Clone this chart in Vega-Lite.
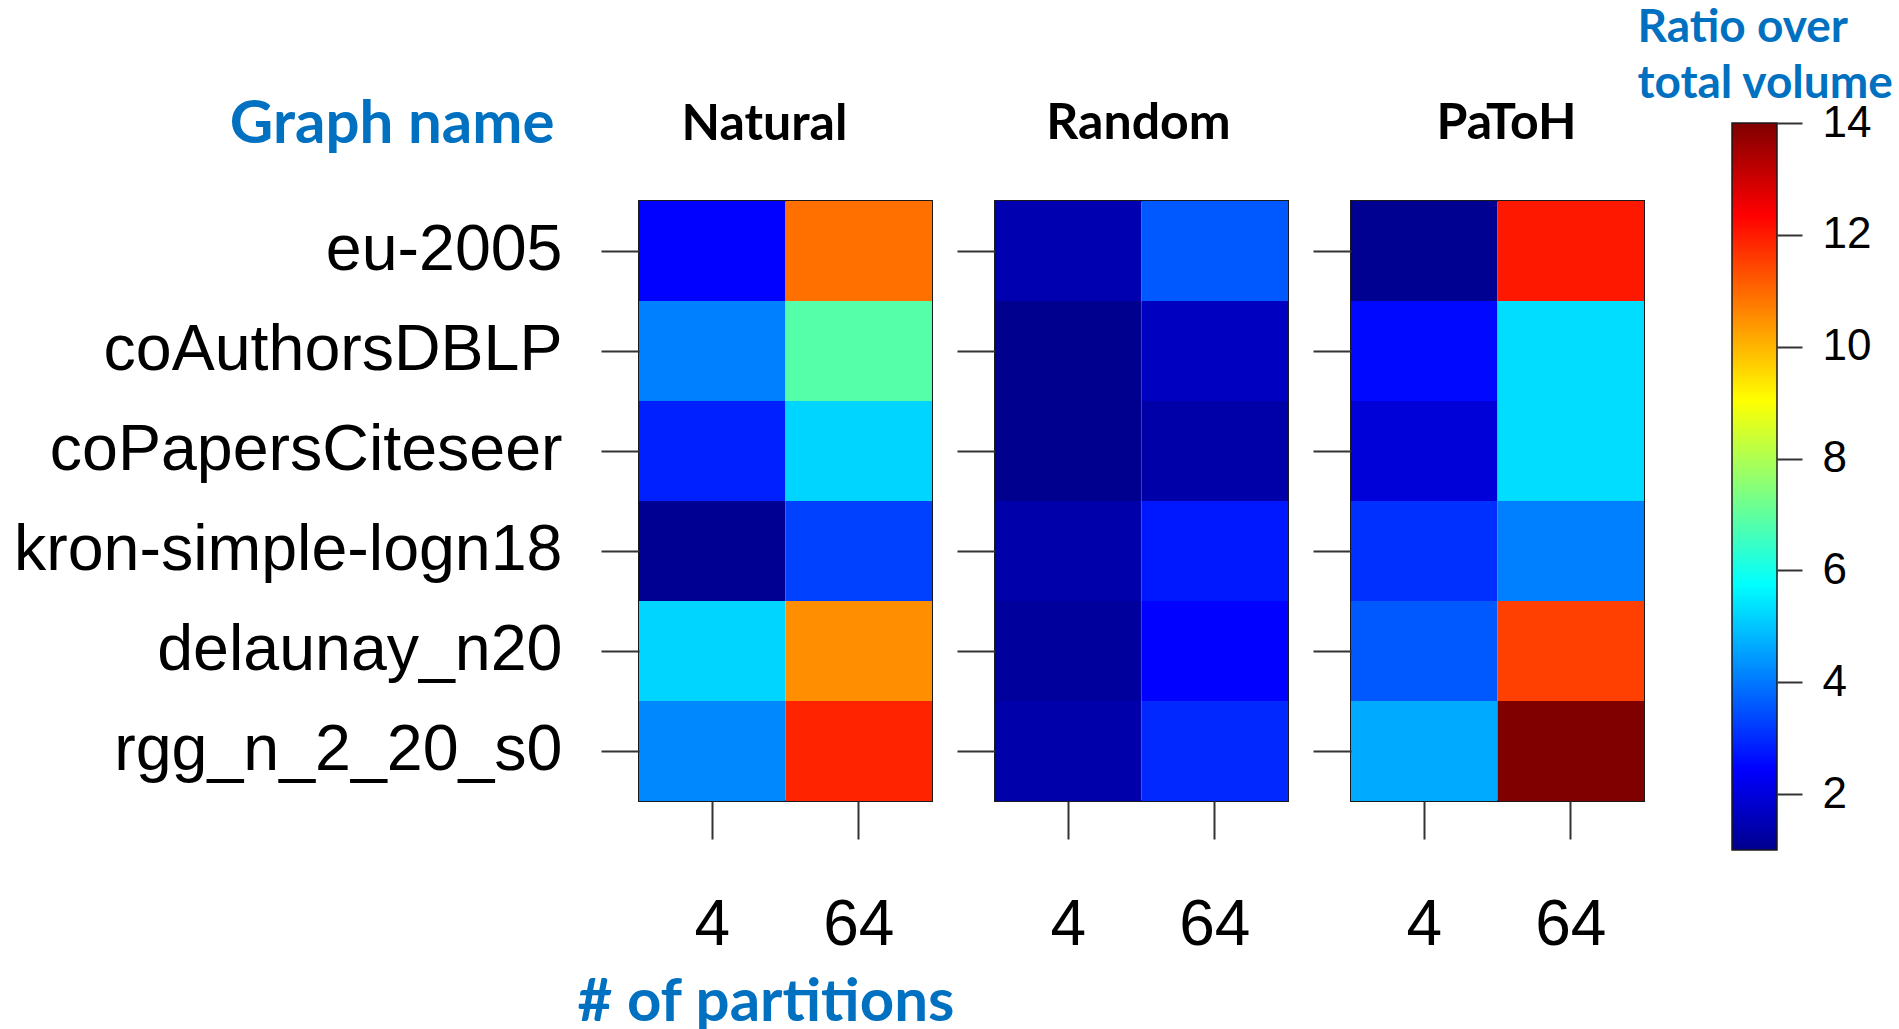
{
  "$schema": "https://vega.github.io/schema/vega-lite/v6.json",
  "background": "white",
  "padding": {"left": 12, "top": 4, "right": 0, "bottom": 0},
  "bounds": "flush",
  "spacing": 63,
  "config": {
    "view": {"stroke": "#1a1a1a", "strokeWidth": 2},
    "axis": {
      "labelFont": "Liberation Sans",
      "labelColor": "black",
      "titleFont": "Lato",
      "titleFontWeight": "bold",
      "titleColor": "#0070C0",
      "tickColor": "#333333",
      "tickWidth": 2,
      "domain": false,
      "grid": false,
      "labelLimit": 0
    },
    "title": {"font": "Lato", "fontWeight": "bold", "fontSize": 50, "color": "black"}
  },
  "datasets": {
    "cells": [
      {"method": "Natural", "graph": "eu-2005", "parts": 4, "ratio": 2.45},
      {"method": "Natural", "graph": "eu-2005", "parts": 64, "ratio": 10.9},
      {"method": "Natural", "graph": "coAuthorsDBLP", "parts": 4, "ratio": 4.1},
      {"method": "Natural", "graph": "coAuthorsDBLP", "parts": 64, "ratio": 6.85},
      {"method": "Natural", "graph": "coPapersCiteseer", "parts": 4, "ratio": 2.85},
      {"method": "Natural", "graph": "coPapersCiteseer", "parts": 64, "ratio": 5.2},
      {"method": "Natural", "graph": "kron-simple-logn18", "parts": 4, "ratio": 1.05},
      {"method": "Natural", "graph": "kron-simple-logn18", "parts": 64, "ratio": 3.27},
      {"method": "Natural", "graph": "delaunay_n20", "parts": 4, "ratio": 5.2},
      {"method": "Natural", "graph": "delaunay_n20", "parts": 64, "ratio": 10.5},
      {"method": "Natural", "graph": "rgg_n_2_20_s0", "parts": 4, "ratio": 4.2},
      {"method": "Natural", "graph": "rgg_n_2_20_s0", "parts": 64, "ratio": 11.9},
      {"method": "Random", "graph": "eu-2005", "parts": 4, "ratio": 1.42},
      {"method": "Random", "graph": "eu-2005", "parts": 64, "ratio": 3.58},
      {"method": "Random", "graph": "coAuthorsDBLP", "parts": 4, "ratio": 1.0},
      {"method": "Random", "graph": "coAuthorsDBLP", "parts": 64, "ratio": 1.63},
      {"method": "Random", "graph": "coPapersCiteseer", "parts": 4, "ratio": 1.0},
      {"method": "Random", "graph": "coPapersCiteseer", "parts": 64, "ratio": 1.32},
      {"method": "Random", "graph": "kron-simple-logn18", "parts": 4, "ratio": 1.35},
      {"method": "Random", "graph": "kron-simple-logn18", "parts": 64, "ratio": 2.75},
      {"method": "Random", "graph": "delaunay_n20", "parts": 4, "ratio": 1.17},
      {"method": "Random", "graph": "delaunay_n20", "parts": 64, "ratio": 2.45},
      {"method": "Random", "graph": "rgg_n_2_20_s0", "parts": 4, "ratio": 1.35},
      {"method": "Random", "graph": "rgg_n_2_20_s0", "parts": 64, "ratio": 2.96},
      {"method": "PaToH", "graph": "eu-2005", "parts": 4, "ratio": 1.02},
      {"method": "PaToH", "graph": "eu-2005", "parts": 64, "ratio": 12.04},
      {"method": "PaToH", "graph": "coAuthorsDBLP", "parts": 4, "ratio": 2.54},
      {"method": "PaToH", "graph": "coAuthorsDBLP", "parts": 64, "ratio": 5.3},
      {"method": "PaToH", "graph": "coPapersCiteseer", "parts": 4, "ratio": 1.94},
      {"method": "PaToH", "graph": "coPapersCiteseer", "parts": 64, "ratio": 5.3},
      {"method": "PaToH", "graph": "kron-simple-logn18", "parts": 4, "ratio": 3.06},
      {"method": "PaToH", "graph": "kron-simple-logn18", "parts": 64, "ratio": 4.1},
      {"method": "PaToH", "graph": "delaunay_n20", "parts": 4, "ratio": 3.58},
      {"method": "PaToH", "graph": "delaunay_n20", "parts": 64, "ratio": 11.52},
      {"method": "PaToH", "graph": "rgg_n_2_20_s0", "parts": 4, "ratio": 4.64},
      {"method": "PaToH", "graph": "rgg_n_2_20_s0", "parts": 64, "ratio": 14.0}
    ],
    "colorbar": [{"lo": 1, "hi": 14}]
  },
  "hconcat": [
    {
      "width": 293,
      "height": 600,
      "data": {"name": "cells"},
      "transform": [{"filter": "datum.method === 'Natural'"}],
      "title": {"text": "Natural", "frame": "group", "anchor": "middle", "baseline": "alphabetic", "offset": -96, "dx": -21},
      "mark": {"type": "rect", "strokeWidth": 0},
      "encoding": {
        "x": {
          "field": "parts", "type": "ordinal", "sort": [4, 64],
          "scale": {"paddingInner": 0, "paddingOuter": 0},
          "axis": {
            "labelAngle": 0, "labelFontSize": 64, "tickSize": 38, "labelPadding": 54,
            "title": "# of partitions", "titleFontSize": 60, "titleAlign": "left",
            "titleBaseline": "alphabetic", "titleX": -62, "titleY": 219
          }
        },
        "y": {
          "field": "graph", "type": "nominal",
          "sort": ["eu-2005", "coAuthorsDBLP", "coPapersCiteseer", "kron-simple-logn18", "delaunay_n20", "rgg_n_2_20_s0"],
          "scale": {"paddingInner": 0, "paddingOuter": 0},
          "axis": {
            "labelFontSize": 64.5, "tickSize": 38, "labelPadding": 39,
            "title": "Graph name", "titleAngle": 0, "titleFontSize": 60, "titleAlign": "right",
            "titleBaseline": "alphabetic", "titleX": -85, "titleY": -59
          }
        },
        "color": {
          "field": "ratio", "type": "quantitative",
          "scale": {
            "domain": [1, 2.44, 5.745, 9.05, 12.35, 14],
            "range": ["#00008F", "#0000FF", "#00FFFF", "#FFFF00", "#FF0000", "#800000"],
            "interpolate": "rgb"
          },
          "legend": null
        }
      }
    },
    {
      "width": 293,
      "height": 600,
      "data": {"name": "cells"},
      "transform": [{"filter": "datum.method === 'Random'"}],
      "title": {"text": "Random", "frame": "group", "anchor": "middle", "baseline": "alphabetic", "offset": 12, "dx": -3},
      "mark": {"type": "rect", "strokeWidth": 0},
      "encoding": {
        "x": {
          "field": "parts", "type": "ordinal", "sort": [4, 64],
          "scale": {"paddingInner": 0, "paddingOuter": 0},
          "axis": {"labelAngle": 0, "labelFontSize": 64, "tickSize": 38, "labelPadding": 54, "title": null}
        },
        "y": {
          "field": "graph", "type": "nominal",
          "sort": ["eu-2005", "coAuthorsDBLP", "coPapersCiteseer", "kron-simple-logn18", "delaunay_n20", "rgg_n_2_20_s0"],
          "scale": {"paddingInner": 0, "paddingOuter": 0},
          "axis": {"labels": false, "tickSize": 38, "title": null}
        },
        "color": {
          "field": "ratio", "type": "quantitative",
          "scale": {
            "domain": [1, 2.44, 5.745, 9.05, 12.35, 14],
            "range": ["#00008F", "#0000FF", "#00FFFF", "#FFFF00", "#FF0000", "#800000"],
            "interpolate": "rgb"
          },
          "legend": null
        }
      }
    },
    {
      "width": 293,
      "height": 600,
      "data": {"name": "cells"},
      "transform": [{"filter": "datum.method === 'PaToH'"}],
      "title": {"text": "PaToH", "frame": "group", "anchor": "middle", "baseline": "alphabetic", "offset": 12, "dx": 9},
      "mark": {"type": "rect", "strokeWidth": 0},
      "encoding": {
        "x": {
          "field": "parts", "type": "ordinal", "sort": [4, 64],
          "scale": {"paddingInner": 0, "paddingOuter": 0},
          "axis": {"labelAngle": 0, "labelFontSize": 64, "tickSize": 38, "labelPadding": 54, "title": null}
        },
        "y": {
          "field": "graph", "type": "nominal",
          "sort": ["eu-2005", "coAuthorsDBLP", "coPapersCiteseer", "kron-simple-logn18", "delaunay_n20", "rgg_n_2_20_s0"],
          "scale": {"paddingInner": 0, "paddingOuter": 0},
          "axis": {"labels": false, "tickSize": 38, "title": null}
        },
        "color": {
          "field": "ratio", "type": "quantitative",
          "scale": {
            "domain": [1, 2.44, 5.745, 9.05, 12.35, 14],
            "range": ["#00008F", "#0000FF", "#00FFFF", "#FFFF00", "#FF0000", "#800000"],
            "interpolate": "rgb"
          },
          "legend": null
        }
      }
    },
    {
      "width": 71,
      "height": 600,
      "view": {"stroke": null},
      "data": {"name": "colorbar"},
      "mark": {
        "type": "rect",
        "stroke": "#1a1a1a",
        "strokeWidth": 1.5,
        "fill": {
          "gradient": "linear", "x1": 0, "y1": 1, "x2": 0, "y2": 0,
          "stops": [
            {"offset": 0, "color": "#00008F"},
            {"offset": 0.111, "color": "#0000FF"},
            {"offset": 0.365, "color": "#00FFFF"},
            {"offset": 0.619, "color": "#FFFF00"},
            {"offset": 0.873, "color": "#FF0000"},
            {"offset": 1, "color": "#800000"}
          ]
        }
      },
      "encoding": {
        "x": {"datum": 0, "type": "quantitative", "scale": {"domain": [0, 1], "range": [25, 70]}, "axis": null},
        "x2": {"datum": 1},
        "y": {
          "field": "lo", "type": "quantitative",
          "scale": {"domain": [1, 14], "range": [649, -78], "zero": false, "nice": false},
          "axis": {
            "orient": "right", "values": [2, 4, 6, 8, 10, 12, 14],
            "labelFontSize": 44, "tickSize": 25, "labelPadding": 20, "offset": -1,
            "title": ["Ratio over", "total volume"], "titleAngle": 0, "titleFontSize": 46,
            "titleAlign": "left", "titleBaseline": "alphabetic", "titleLineHeight": 56,
            "titleX": -140, "titleY": -160
          }
        },
        "y2": {"field": "hi"}
      }
    }
  ]
}
